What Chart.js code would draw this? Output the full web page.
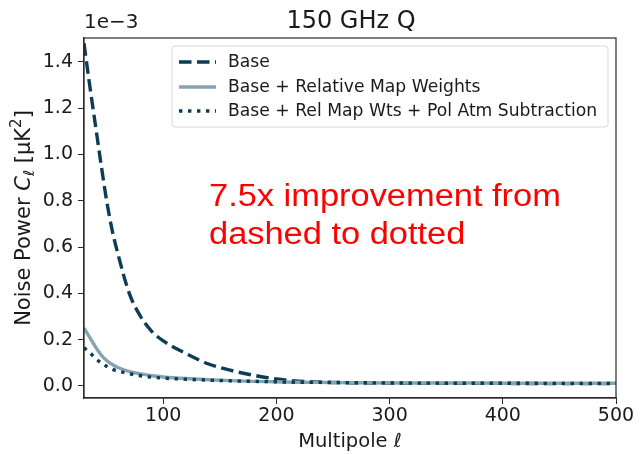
<!DOCTYPE html>
<html>
<head>
<meta charset="utf-8">
<script src="https://cdn.jsdelivr.net/npm/chart.js@4"></script>
<style>
  html, body { margin: 0; padding: 0; background: #fff; }
  #wrap { width: 640px; height: 454px; position: relative; }
</style>
</head>
<body>
<div id="wrap"><canvas id="chartNoise" width="640" height="454"></canvas></div>
<script>
// multipole values (x) and noise power in units of 1e-3 uK^2
const ell = [30, 35, 40, 45, 50, 55, 60, 70, 80, 90, 100, 120, 140, 160, 180, 200, 220, 250, 300, 350, 400, 450, 500];
const baseNoise = [1.48, 1.30, 1.13, 0.96, 0.80, 0.67, 0.57, 0.40, 0.30, 0.235, 0.195, 0.14, 0.095, 0.067, 0.046, 0.03, 0.021, 0.015, 0.012, 0.011, 0.011, 0.01, 0.01];
const relWeightsNoise = [0.25, 0.21, 0.17, 0.135, 0.11, 0.093, 0.08, 0.062, 0.052, 0.044, 0.039, 0.032, 0.027, 0.023, 0.02, 0.018, 0.016, 0.015, 0.013, 0.013, 0.012, 0.012, 0.012];
const polAtmNoise = [0.165, 0.145, 0.12, 0.10, 0.085, 0.072, 0.064, 0.053, 0.044, 0.038, 0.034, 0.029, 0.025, 0.022, 0.02, 0.018, 0.016, 0.015, 0.013, 0.012, 0.012, 0.011, 0.011];
const seriesLabels = ['Base', 'Base + Relative Map Weights', 'Base + Rel Map Wts + Pol Atm Subtraction'];
const xTicks = [100, 200, 300, 400, 500];
const yTicks = [0, 0.2, 0.4, 0.6, 0.8, 1.0, 1.2, 1.4];

const DARK = '#0c3d55';
const LIGHT = '#86a3b2';
const FONT = '"DejaVu Sans", sans-serif';
const TEXT = '#1a1a1a';

const toPoints = vals => ell.map((x, i) => ({ x, y: vals[i] }));

const annotations = {
  id: 'annotations',
  afterDraw(chart) {
    const { ctx, chartArea: a } = chart;
    ctx.save();
    // frame
    ctx.strokeStyle = '#2b2b2b';
    ctx.lineWidth = 1.2;
    ctx.strokeRect(a.left, a.top, a.right - a.left, a.bottom - a.top);

    ctx.fillStyle = TEXT;
    ctx.textBaseline = 'alphabetic';
    ctx.font = '24px ' + FONT;
    ctx.textAlign = 'center';
    ctx.fillText('150 GHz Q', 351, 28);

    ctx.font = '20px ' + FONT;
    ctx.textAlign = 'left';
    ctx.fillText('1e\u22123', 84, 28);

    // x axis title
    ctx.font = '19.5px ' + FONT;
    const xt = 'Multipole ';
    const xtw = ctx.measureText(xt).width;
    ctx.font = 'italic 19.5px ' + FONT;
    const lw = ctx.measureText('\u2113').width;
    ctx.font = '19.5px ' + FONT;
    const xStart = 350 - (xtw + lw) / 2;
    ctx.fillText(xt, xStart, 447);
    ctx.font = 'italic 19.5px ' + FONT;
    ctx.fillText('\u2113', xStart + xtw, 447);

    // y axis title
    ctx.translate(30, 218);
    ctx.rotate(-Math.PI / 2);
    const parts = [
      ['Noise Power ', '21px', 0],
      ['C', 'italic 21px', 0],
      ['\u2113', 'italic 15px', 4],
      [' [\u03bcK', '21px', 0],
      ['2', '15px', -9],
      [']', '21px', 0]
    ];
    let total = 0;
    parts.forEach(p => { ctx.font = p[1] + ' ' + FONT; total += ctx.measureText(p[0]).width; });
    let px = -total / 2;
    parts.forEach(p => {
      ctx.font = p[1] + ' ' + FONT;
      ctx.fillText(p[0], px, p[2]);
      px += ctx.measureText(p[0]).width;
    });
    ctx.restore();

    // legend
    ctx.save();
    const lx = 172, ly = 46, lwid = 436, lh = 81;
    ctx.fillStyle = 'rgba(255,255,255,0.85)';
    ctx.strokeStyle = '#d8d8d8';
    ctx.lineWidth = 1;
    ctx.beginPath();
    ctx.roundRect(lx, ly, lwid, lh, 3);
    ctx.fill();
    ctx.stroke();
    const dsets = chart.data.datasets;
    [62, 87, 111].forEach((yy, i) => {
      const ds = dsets[i];
      ctx.strokeStyle = ds.borderColor;
      ctx.lineWidth = ds.borderWidth;
      ctx.setLineDash(ds.borderDash || []);
      ctx.lineCap = 'butt';
      ctx.beginPath();
      ctx.moveTo(179, yy);
      ctx.lineTo(216, yy);
      ctx.stroke();
      ctx.setLineDash([]);
      ctx.fillStyle = TEXT;
      ctx.font = '17.2px ' + FONT;
      ctx.textAlign = 'left';
      ctx.textBaseline = 'middle';
      ctx.fillText(seriesLabels[i], 228, yy + 1);
    });

    // red note
    ctx.fillStyle = '#ff0000';
    ctx.font = '31px "Liberation Sans", Arial, sans-serif';
    ctx.textBaseline = 'alphabetic';
    ctx.translate(209, 0);
    ctx.scale(1.11, 1);
    ctx.fillText('7.5x improvement from', 0, 206);
    ctx.fillText('dashed to dotted', 0, 244);
    ctx.restore();
  }
};

const context = document.getElementById('chartNoise').getContext('2d');
const chart = new Chart(context, {
  type: 'line',
  data: {
    datasets: [{
      label: seriesLabels[0],
      data: toPoints(baseNoise),
      borderColor: DARK,
      borderWidth: 3.4,
      borderDash: [12.5, 5.5],
      order: 3
    }, {
      label: seriesLabels[1],
      data: toPoints(relWeightsNoise),
      borderColor: LIGHT,
      borderWidth: 3.4,
      order: 2
    }, {
      label: seriesLabels[2],
      data: toPoints(polAtmNoise),
      borderColor: DARK,
      borderWidth: 3.4,
      borderDash: [3.4, 5.6],
      order: 1
    }]
  },
  options: {
    responsive: false,
    animation: false,
    devicePixelRatio: 1,
    layout: { padding: { left: 0, right: 24, top: 38, bottom: 0 } },
    elements: {
      point: { radius: 0 },
      line: { cubicInterpolationMode: 'monotone', fill: false }
    },
    plugins: {
      legend: { display: false },
      tooltip: { enabled: false }
    },
    scales: {
      x: {
        type: 'linear',
        min: 30,
        max: 500,
        afterBuildTicks: scale => { scale.ticks = xTicks.map(v => ({ value: v })); },
        afterFit: scale => { scale.height = 56; },
        grid: { drawOnChartArea: false, drawTicks: true, tickLength: 6, color: '#2b2b2b' },
        border: { display: true, color: '#2b2b2b', width: 1.2 },
        ticks: {
          color: TEXT,
          font: { family: 'DejaVu Sans', size: 19 },
          padding: 1,
          maxRotation: 0,
          callback: v => String(v)
        }
      },
      y: {
        min: -0.052,
        max: 1.503,
        afterBuildTicks: scale => { scale.ticks = yTicks.map(v => ({ value: v })); },
        afterFit: scale => { scale.width = 84; },
        grid: { drawOnChartArea: false, drawTicks: true, tickLength: 6, color: '#2b2b2b' },
        border: { display: true, color: '#2b2b2b', width: 1.2 },
        ticks: {
          color: TEXT,
          font: { family: 'DejaVu Sans', size: 19 },
          padding: 5,
          callback: v => v.toFixed(1)
        }
      }
    }
  },
  plugins: [annotations]
});
</script>
</body>
</html>
